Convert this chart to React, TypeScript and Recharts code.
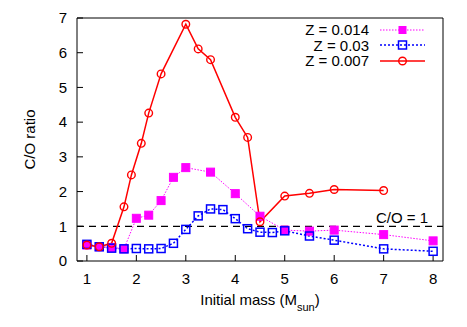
import React from 'react';
import { LineChart, Line, XAxis, YAxis, ReferenceLine, Legend, Label } from 'recharts';

const massZ014 = [1, 1.25, 1.5, 1.75, 2, 2.25, 2.5, 2.75, 3, 3.5, 4, 4.5, 5, 5.5, 6, 7, 8];
const coZ014 = [0.46, 0.41, 0.39, 0.35, 1.23, 1.32, 1.74, 2.41, 2.69, 2.56, 1.94, 1.29, 0.89, 0.86, 0.89, 0.76, 0.58];

const massZ03 = [1, 1.25, 1.5, 1.75, 2, 2.25, 2.5, 2.75, 3, 3.25, 3.5, 3.75, 4, 4.25, 4.5, 4.75, 5, 5.5, 6, 7, 8];
const coZ03 = [0.48, 0.41, 0.37, 0.35, 0.36, 0.35, 0.36, 0.51, 0.91, 1.3, 1.5, 1.48, 1.22, 0.93, 0.83, 0.82, 0.87, 0.72, 0.6, 0.35, 0.28];

const massZ007 = [1, 1.25, 1.5, 1.75, 1.9, 2.1, 2.25, 2.5, 3, 3.25, 3.5, 4, 4.25, 4.5, 5, 5.5, 6, 7];
const coZ007 = [0.46, 0.41, 0.51, 1.56, 2.48, 3.39, 4.26, 5.39, 6.82, 6.11, 5.8, 4.14, 3.56, 1.13, 1.87, 1.95, 2.06, 2.03];

const xTicks = [1, 2, 3, 4, 5, 6, 7, 8];
const yTicks = [0, 1, 2, 3, 4, 5, 6, 7];
const seriesNames = ['Z = 0.014', 'Z = 0.03', 'Z = 0.007'];
const refValue = 1;
const refLabel = 'C/O = 1';

const toData = (xs: number[], ys: number[]) => xs.map((x, i) => ({ x, y: ys[i] }));
const dataZ014 = toData(massZ014, coZ014);
const dataZ03 = toData(massZ03, coZ03);
const dataZ007 = toData(massZ007, coZ007);

const FONT = '"Liberation Sans", Arial, Helvetica, sans-serif';
const MAGENTA = '#ff00ff';
const BLUE = '#0000ff';
const RED = '#ff0000';

const FilledSquare = (props: any) => {
  const { cx, cy, index } = props;
  if (cx == null || cy == null) return <g key={`fs-${index}`} />;
  return <rect key={`fs-${index}`} x={cx - 4} y={cy - 4} width={8} height={8} fill={MAGENTA} stroke={MAGENTA} strokeWidth={1} />;
};

const OpenSquare = (props: any) => {
  const { cx, cy, index } = props;
  if (cx == null || cy == null) return <g key={`os-${index}`} />;
  return <rect key={`os-${index}`} x={cx - 4} y={cy - 4} width={8} height={8} fill="none" stroke={BLUE} strokeWidth={1.5} />;
};

const OpenCircle = (props: any) => {
  const { cx, cy, index } = props;
  if (cx == null || cy == null) return <g key={`oc-${index}`} />;
  return <circle key={`oc-${index}`} cx={cx} cy={cy} r={3.8} fill="none" stroke={RED} strokeWidth={1.4} />;
};

const LegendContent = () => {
  const rows = [
    { name: seriesNames[0], color: MAGENTA, dash: '1.5 1.5', w: 1, marker: 'fs' },
    { name: seriesNames[1], color: BLUE, dash: '2 2', w: 1.5, marker: 'os' },
    { name: seriesNames[2], color: RED, dash: undefined, w: 1.5, marker: 'oc' },
  ];
  return (
    <div style={{ fontFamily: FONT, fontSize: 15, color: '#000' }}>
      {rows.map((r) => (
        <div key={r.name} style={{ display: 'flex', alignItems: 'center', height: 15.5 }}>
          <span style={{ width: 100, textAlign: 'right', lineHeight: '15.5px' }}>{r.name}</span>
          <svg width={56} height={14} style={{ marginLeft: 11 }}>
            <line x1={0} y1={7} x2={45} y2={7} stroke={r.color} strokeWidth={r.w} strokeDasharray={r.dash} />
            {r.marker === 'fs' && <rect x={18.5} y={3} width={8} height={8} fill={MAGENTA} />}
            {r.marker === 'os' && <rect x={18.5} y={3} width={8} height={8} fill="none" stroke={BLUE} strokeWidth={1.5} />}
            {r.marker === 'oc' && <circle cx={22.5} cy={7} r={3.8} fill="none" stroke={RED} strokeWidth={1.4} />}
          </svg>
        </div>
      ))}
    </div>
  );
};

const XTitle = (props: any) => {
  const { viewBox } = props;
  const cx = viewBox.x + viewBox.width / 2;
  const y = viewBox.y + 44;
  return (
    <text x={cx} y={y} textAnchor="middle" fontFamily={FONT} fontSize={15} fill="#000">
      Initial mass (M
      <tspan baselineShift="sub" fontSize={11}>sun</tspan>
      )
    </text>
  );
};

const YTitle = (props: any) => {
  const { viewBox } = props;
  const cx = viewBox.x + viewBox.width - 42;
  const cy = viewBox.y + viewBox.height / 2;
  return (
    <text x={cx} y={cy} transform={`rotate(-90 ${cx} ${cy})`} textAnchor="middle" fontFamily={FONT} fontSize={15} fill="#000">
      C/O ratio
    </text>
  );
};

const RefText = (props: any) => {
  const { viewBox } = props;
  const x = viewBox.x + viewBox.width - 15;
  const y = viewBox.y - 3;
  return (
    <text x={x} y={y} textAnchor="end" fontFamily={FONT} fontSize={15} fill="#000">
      {refLabel}
    </text>
  );
};

export default function App() {
  const axisTick = { fill: '#000', fontSize: 15, fontFamily: FONT };
  return (
    <div style={{ position: 'absolute', left: 0, top: 0, background: '#fff' }}>
      <LineChart width={467} height={327} margin={{ top: 0, right: 0, bottom: 0, left: 0 }}>
        <XAxis
          xAxisId="b"
          type="number"
          dataKey="x"
          domain={[0.8, 8.2]}
          ticks={xTicks}
          allowDataOverflow
          height={66}
          stroke="#000"
          tickLine={{ stroke: '#000' }}
          tickSize={-6}
          tickMargin={18}
          tick={axisTick}
        >
          <Label content={<XTitle />} />
        </XAxis>
        <XAxis
          xAxisId="t"
          orientation="top"
          type="number"
          dataKey="x"
          domain={[0.8, 8.2]}
          ticks={xTicks}
          allowDataOverflow
          height={18}
          stroke="#000"
          tickLine={{ stroke: '#000' }}
          tickSize={-6}
          tick={false}
        />
        <YAxis
          yAxisId="l"
          type="number"
          domain={[0, 7]}
          ticks={yTicks}
          allowDataOverflow
          width={77}
          stroke="#000"
          tickLine={{ stroke: '#000' }}
          tickSize={-6}
          tickMargin={16}
          tick={axisTick}
        >
          <Label content={<YTitle />} />
        </YAxis>
        <YAxis
          yAxisId="r"
          orientation="right"
          type="number"
          domain={[0, 7]}
          ticks={yTicks}
          allowDataOverflow
          width={24}
          stroke="#000"
          tickLine={{ stroke: '#000' }}
          tickSize={-6}
          tick={false}
        />
        <ReferenceLine
          xAxisId="b"
          yAxisId="l"
          y={refValue}
          stroke="#000"
          strokeWidth={1.3}
          strokeDasharray="7 5"
          label={<RefText />}
        />
        <Line
          xAxisId="b"
          yAxisId="l"
          data={dataZ014}
          dataKey="y"
          name={seriesNames[0]}
          stroke={MAGENTA}
          strokeWidth={1}
          strokeDasharray="1.5 1.5"
          dot={<FilledSquare />}
          isAnimationActive={false}
        />
        <Line
          xAxisId="b"
          yAxisId="l"
          data={dataZ03}
          dataKey="y"
          name={seriesNames[1]}
          stroke={BLUE}
          strokeWidth={1.5}
          strokeDasharray="2 2"
          dot={<OpenSquare />}
          isAnimationActive={false}
        />
        <Line
          xAxisId="b"
          yAxisId="l"
          data={dataZ007}
          dataKey="y"
          name={seriesNames[2]}
          stroke={RED}
          strokeWidth={1.5}
          dot={<OpenCircle />}
          isAnimationActive={false}
        />
        <Line
          xAxisId="t"
          yAxisId="r"
          data={dataZ007}
          dataKey="y"
          stroke="none"
          dot={false}
          legendType="none"
          isAnimationActive={false}
        />
        <Legend
          layout="vertical"
          verticalAlign="middle"
          align="center"
          content={<LegendContent />}
          wrapperStyle={{ position: 'absolute', left: 269, top: 22, width: 170, height: 50 }}
        />
      </LineChart>
    </div>
  );
}
